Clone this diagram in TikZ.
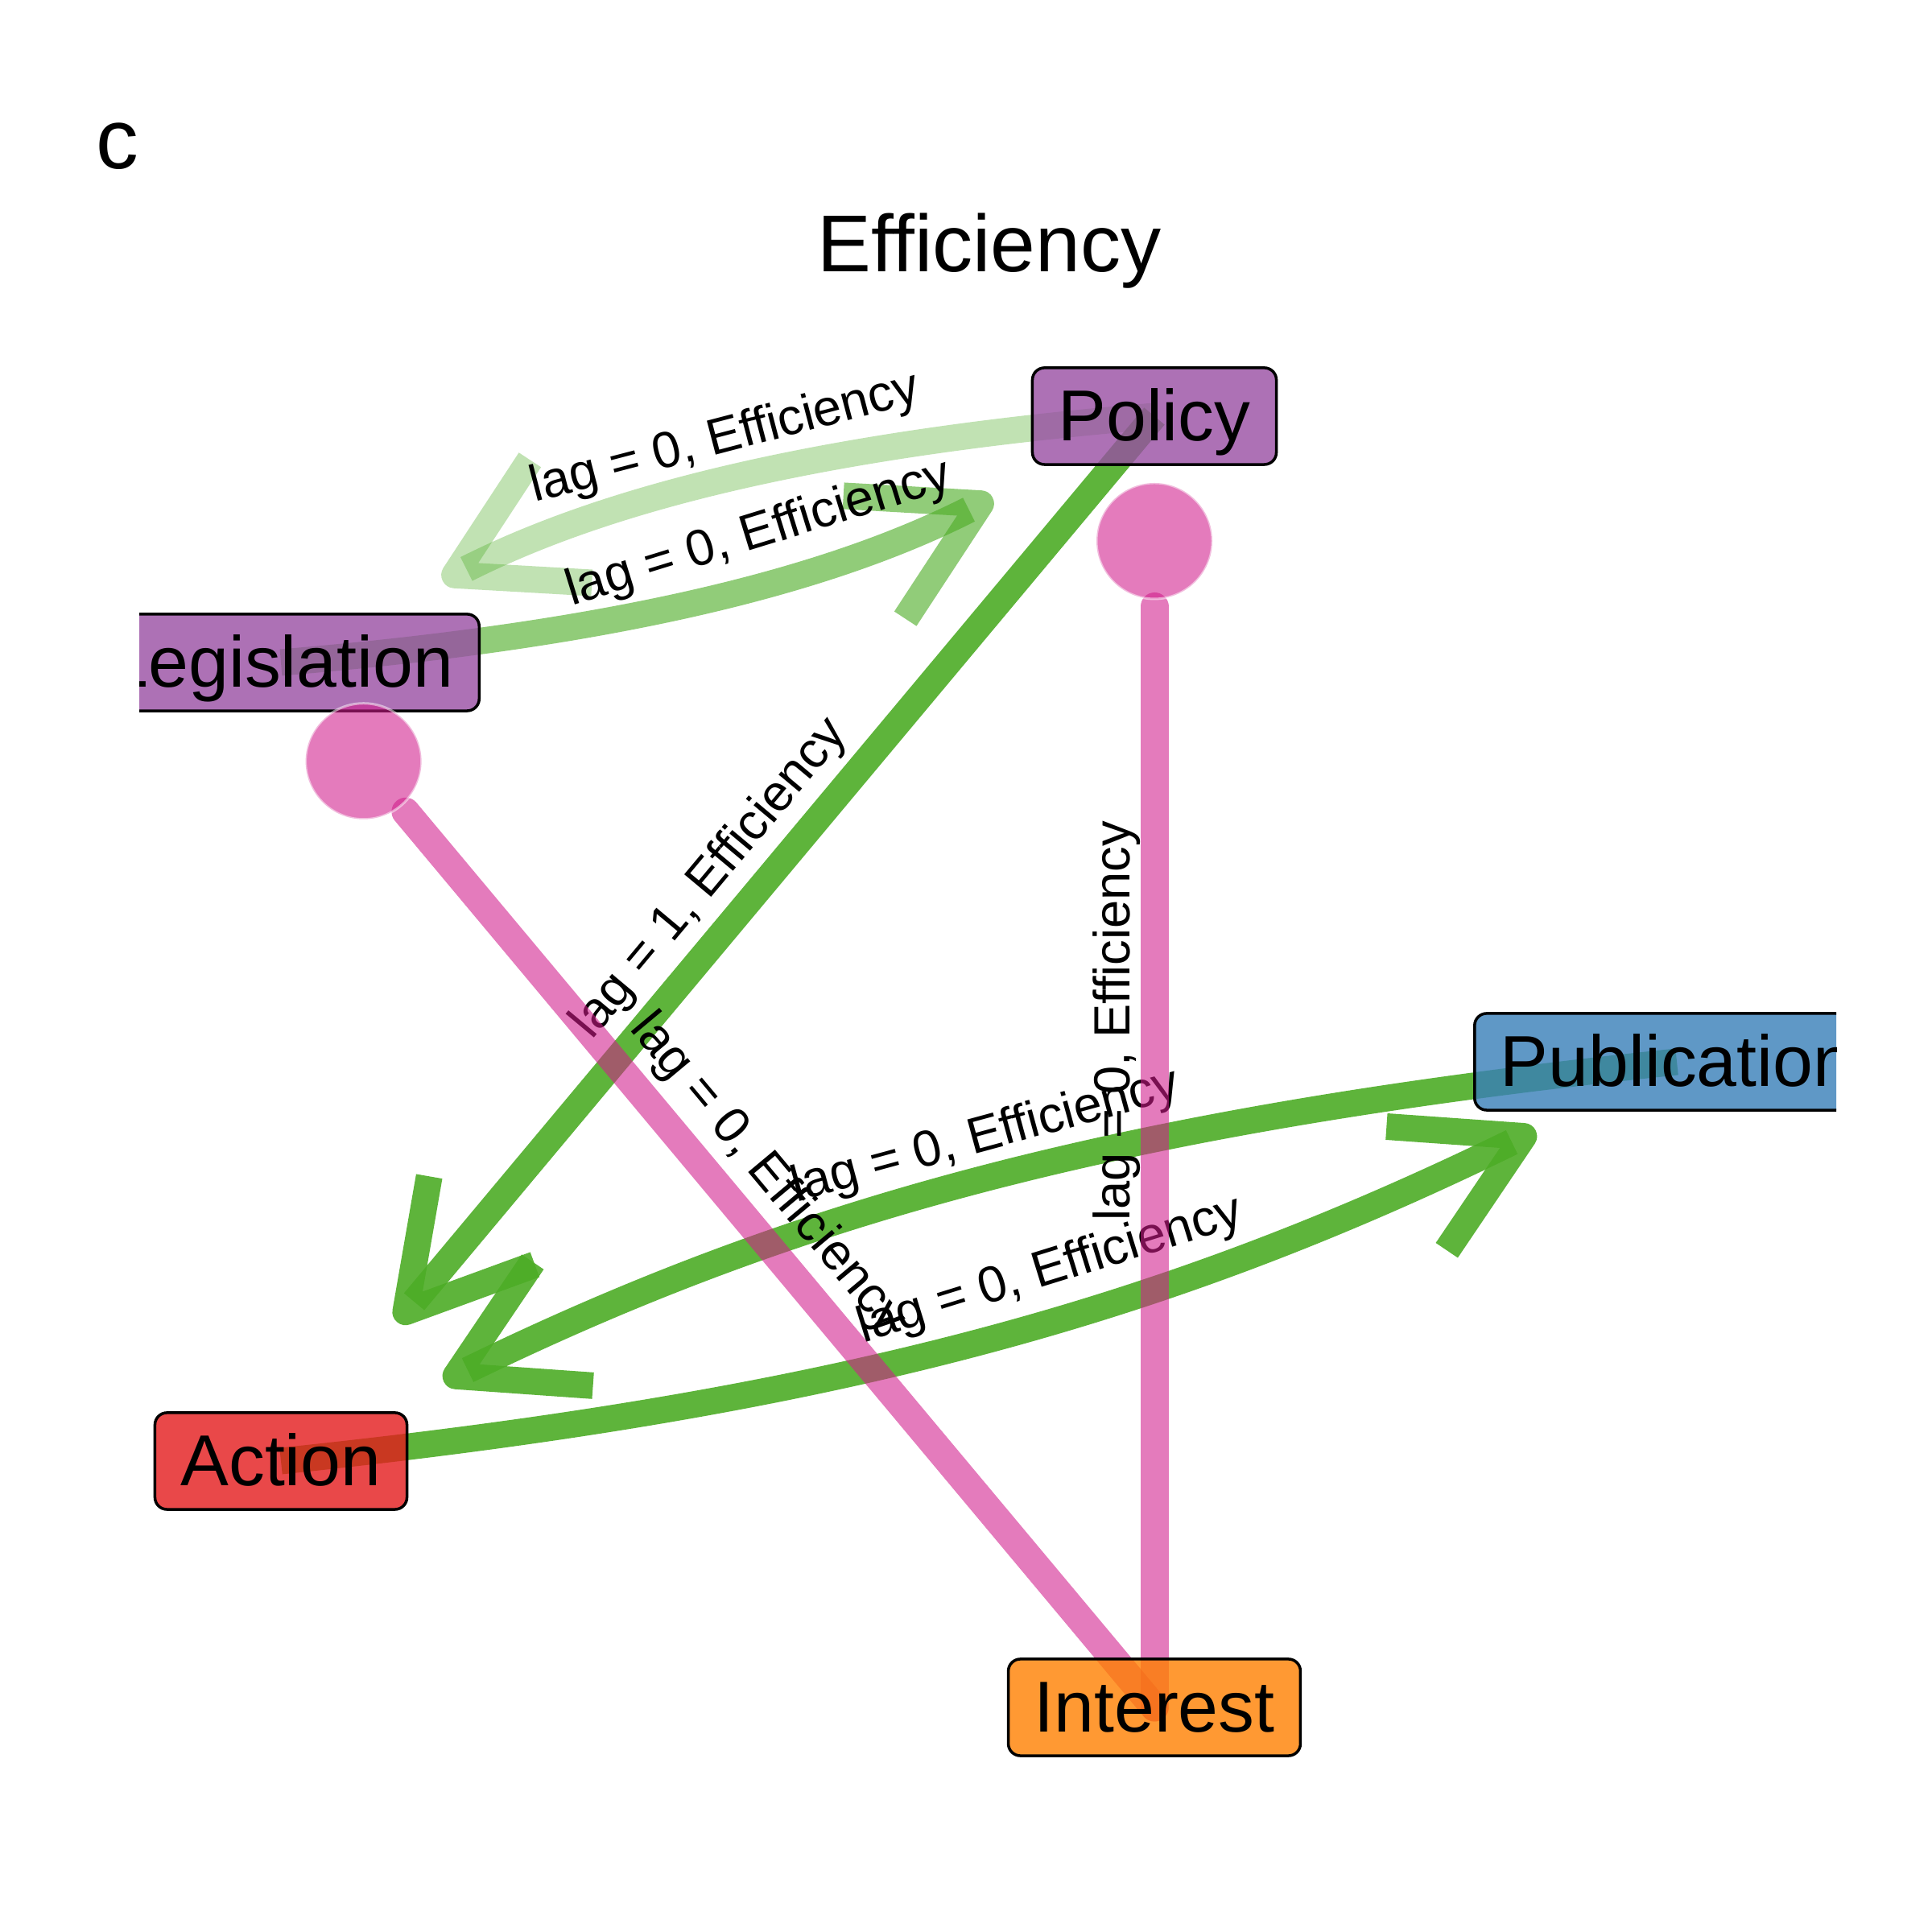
\documentclass[tikz,border=0pt]{standalone}
\usepackage{fontspec}
\setmainfont{Liberation Sans}
\usetikzlibrary{arrows.meta, calc, backgrounds}

\definecolor{polcol}{HTML}{984EA3}
\definecolor{actcol}{HTML}{E41A1C}
\definecolor{pubcol}{HTML}{377EB8}
\definecolor{intcol}{HTML}{FF7F00}
\definecolor{greencol}{HTML}{4DAC26}
\definecolor{pinkcol}{HTML}{D01C8B}

\tikzset{
  varbox/.style={draw=black, line width=1pt, rounded corners=0.15cm,
    fill opacity=0.8, text opacity=1, font=\fontsize{25.5}{30}\selectfont,
    text height=21pt, text depth=3.5pt, inner xsep=0.32cm, inner ysep=0.17cm},
  link/.style={draw=greencol, draw opacity=0.9, line width=0.33cm, shorten >=2.25cm,
    -{Straight Barb[length=1.48cm, width=1.71cm, line join=round, line cap=butt]}},
  pinklink/.style={draw=pinkcol, draw opacity=0.58, line width=0.35cm,
    line cap=round, shorten >=0.08cm},
  tail/.style={circle, fill=pinkcol, fill opacity=0.58, draw=white, draw opacity=0.5,
    line width=0.03cm, minimum size=1.44cm, inner sep=0pt},
  lagtext/.style={midway, sloped, above, inner sep=2.5pt, text=black,
    font=\fontsize{18}{22}\selectfont}
}

\begin{document}
\begin{tikzpicture}
  \useasboundingbox (0,0) rectangle (24,24);

  \node[anchor=base, font=\fontsize{30}{36}\selectfont] (panel) at (1.46,21.90) {c};
  \node[anchor=base, font=\fontsize{28.5}{34}\selectfont] (title) at (12.29,20.62) {Efficiency};

  % variables
  \begin{scope}
    \clip (1.73,0) rectangle (22.81,24);
    \node[varbox, fill=polcol] (policy) at (14.34,18.83) {Policy};
    \node[varbox, fill=polcol] (legis) at (3.49,15.77) {Legislation};
    \node[varbox, fill=pubcol] (publ) at (20.83,10.81) {Publication};
    \node[varbox, fill=actcol] (action) at (3.49,5.85) {Action};
    \node[varbox, fill=intcol] (interest) at (14.34,2.79) {Interest};
  \end{scope}

  % circle ends
  \node[tail] (poltail) at ($(policy.center)!1.55cm!(interest.center)$) {};
  \node[tail] (legtail) at ($(legis.center)!1.6cm!(interest.center)$) {};

  \begin{scope}[on background layer]
    % green links
    \draw[link, draw opacity=0.35] (policy.center) to[bend right=11]
      node[lagtext, pos=0.46] {lag = 0, Efficiency} (legis.center);
    \draw[link, draw opacity=0.62] (legis.center) to[bend right=11]
      node[lagtext, pos=0.55] {lag = 0, Efficiency} (policy.center);
    \draw[link] (policy.center) -- node[lagtext, pos=0.47] {lag = 1, Efficiency} (action.center);
    \draw[link] (publ.center) to[bend right=10]
      node[lagtext, pos=0.47] {lag = 0, Efficiency} (action.center);
    \draw[link, shorten >=1.95cm] (action.center) to[bend right=10]
      node[lagtext, pos=0.55] {lag = 0, Efficiency} (publ.center);
    % pink links
    \draw[pinklink] (interest.center) -- node[lagtext, pos=0.62, inner sep=0pt] {lag = 0, Efficiency} (poltail);
    \draw[pinklink] (interest.center) -- node[lagtext, pos=0.56] {lag = 0, Efficiency} (legtail);
  \end{scope}
\end{tikzpicture}
\end{document}
